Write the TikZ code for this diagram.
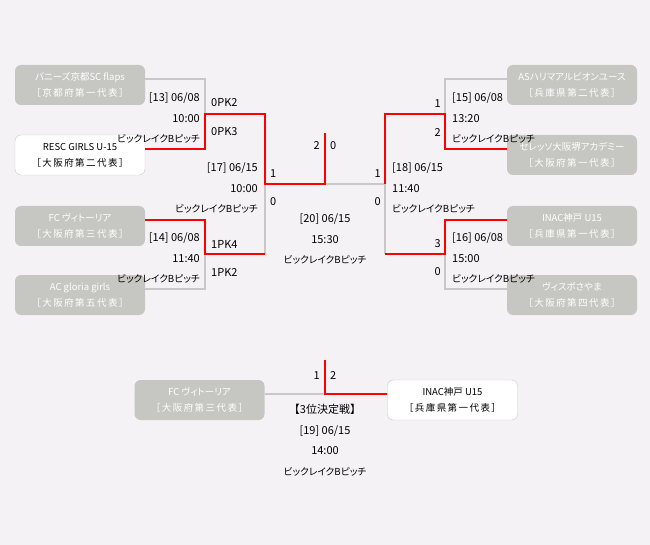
\documentclass[tikz,border=0pt]{standalone}
\usepackage{fontspec}
\setmainfont{Noto Sans CJK JP}
\newfontfamily\pfont{Noto Sans CJK JP}[RawFeature=+palt]
\newfontfamily\kfont{Noto Sans CJK JP}[RawFeature=+palt, Scale=0.88]
\newfontfamily\wfont{Noto Sans CJK JP}[LetterSpace=15]
\usepackage{tikz}

\definecolor{bg}{RGB}{244,242,245}
\definecolor{boxgray}{RGB}{198,199,194}
\definecolor{linegray}{RGB}{200,200,200}

\begin{document}
\begin{tikzpicture}[x=1pt,y=-1pt,
	team/.style={rectangle, rounded corners=6pt, fill=boxgray, text=white, minimum width=130pt, minimum height=40pt, inner sep=0pt, align=center, font=\fontsize{9.5}{16}\selectfont},
	winner/.style={team, fill=white, draw=linegray, text=black},
	lose/.style={draw=linegray, line width=2.5pt},
	win/.style={draw=red, line width=2.5pt},
	info/.style={inner sep=0pt, font=\pfont\fontsize{11}{20.5}\selectfont},
	score/.style={inner sep=0pt, font=\fontsize{11}{13}\selectfont}]
			\fill[bg] (0,0) rectangle (650,545);
			% Teams
			\node[team] (t1) at (80,85) {{\pfont バニーズ京都SC flaps}\\{\wfont ［京都府第一代表］}};
			\node[winner] (t2) at (80,155) {{\pfont RESC GIRLS U-15}\\{\wfont ［大阪府第二代表］}};
			\node[team] (t3) at (80,226) {{\pfont FC ヴィトーリア}\\{\wfont ［大阪府第三代表］}};
			\node[team] (t4) at (80,295) {{\pfont AC gloria girls}\\{\wfont ［大阪府第五代表］}};
			\node[team] (t5) at (572,85) {{\pfont ASハリマアルビオンユース}\\{\wfont ［兵庫県第二代表］}};
			\node[team] (t6) at (572,155) {{\pfont セレッソ大阪堺アカデミー}\\{\wfont ［大阪府第一代表］}};
			\node[team] (t7) at (572,226) {{\pfont INAC神戸 U15}\\{\wfont ［兵庫県第一代表］}};
			\node[team] (t8) at (572,295) {{\pfont ヴィスポさやま}\\{\wfont ［大阪府第四代表］}};
			\node[team] (t9) at (199.5,400) {{\pfont FC ヴィトーリア}\\{\wfont ［大阪府第三代表］}};
			\node[winner] (t10) at (452.5,400) {{\pfont INAC神戸 U15}\\{\wfont ［兵庫県第一代表］}};
			% Joins
			\coordinate (j13) at (205,114);
			\coordinate (j14) at (205,254);
			\coordinate (j17) at (265,184);
			\coordinate (j20) at (325,184);
			\coordinate (top20) at (325,133);
			\coordinate (j18) at (385,184);
			\coordinate (j15) at (445,114);
			\coordinate (j16) at (445,254);
			\coordinate (j19) at (325,394);
			\coordinate (top19) at (325,360);
			% Lines
			\draw[lose] ([yshift=6pt]t1.east) -| (j13);
			\draw[lose] ([yshift=6pt]t4.east) -| (j14);
			\draw[lose] (j14 -| j17) -- (j17);
			\draw[lose] ([yshift=6pt]t5.west) -| (j15);
			\draw[lose] ([yshift=6pt]t8.west) -| (j16);
			\draw[lose] (j16 -| j18) -- (j18);
			\draw[lose] (j18) -- (j20);
			\draw[lose] ([yshift=6pt]t9.east) -- (j19);
			\draw[win] ([yshift=6pt]t2.east) -| (j13) -| (j17) -| (top20);
			\draw[win] ([yshift=6pt]t3.east) -| (j14) -- (j14 -| j17);
			\draw[win] ([yshift=6pt]t6.west) -| (j15) -| (j18);
			\draw[win] ([yshift=6pt]t7.west) -| (j16) -- (j16 -| j18);
			\draw[win] (top19) |- ([yshift=6pt]t10.west);
			% Matches
			\node[info, anchor=east, align=right] (m13) at (200,118) {[13] 06/08\\10:00\\{\kfont ビックレイクBピッチ}};
			\node[info, anchor=east, align=right] (m17) at (258,188) {[17] 06/15\\10:00\\{\kfont ビックレイクBピッチ}};
			\node[info, anchor=east, align=right] (m14) at (200,258) {[14] 06/08\\11:40\\{\kfont ビックレイクBピッチ}};
			\node[info, anchor=west, align=left] (m15) at (452,118) {[15] 06/08\\13:20\\{\kfont ビックレイクBピッチ}};
			\node[info, anchor=west, align=left] (m18) at (392,188) {[18] 06/15\\11:40\\{\kfont ビックレイクBピッチ}};
			\node[info, anchor=west, align=left] (m16) at (452,258) {[16] 06/08\\15:00\\{\kfont ビックレイクBピッチ}};
			\node[info, align=center] (m20) at (325,239) {[20] 06/15\\15:30\\{\kfont ビックレイクBピッチ}};
			\node[info, align=center] (m19) at (325,440) {{\rmfamily\fontsize{11}{20.5}\selectfont 【3位決定戦】}\\{[19] 06/15}\\14:00\\{\kfont ビックレイクBピッチ}};
			% Scores
			\node[score, anchor=west] (s13a) at (211,103) {0PK2};
			\node[score, anchor=west] (s13b) at (211,132) {0PK3};
			\node[score, anchor=west] (s14a) at (211,244) {1PK4};
			\node[score, anchor=west] (s14b) at (211,272) {1PK2};
			\node[score, anchor=west] (s17a) at (270,174) {1};
			\node[score, anchor=west] (s17b) at (270,202) {0};
			\node[score, anchor=east] (s20a) at (320,146) {2};
			\node[score, anchor=west] (s20b) at (330,146) {0};
			\node[score, anchor=east] (s18a) at (381,174) {1};
			\node[score, anchor=east] (s18b) at (381,202) {0};
			\node[score, anchor=east] (s15a) at (441,104) {1};
			\node[score, anchor=east] (s15b) at (441,133) {2};
			\node[score, anchor=east] (s16a) at (441,244) {3};
			\node[score, anchor=east] (s16b) at (441,272) {0};
			\node[score, anchor=east] (s19a) at (320,376) {1};
			\node[score, anchor=west] (s19b) at (330,376) {2};
		\end{tikzpicture}
\end{document}
